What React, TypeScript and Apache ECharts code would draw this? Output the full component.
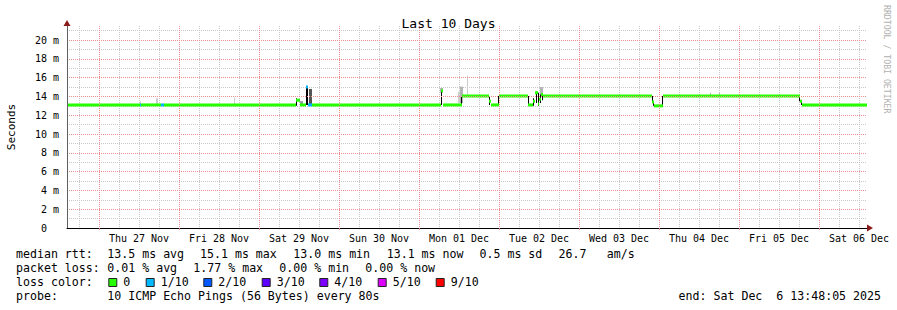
import React, { useEffect, useRef } from 'react';
import * as echarts from 'echarts';

// ---- Data (x = hours relative to Thu 27 Nov 00:00, y = milliseconds) ----
const X_MIN = -9.6;
const X_MAX = 230.4;
const Y_MIN = 0;
const Y_MAX = 21.5;

const dayLabels = ['Thu 27 Nov', 'Fri 28 Nov', 'Sat 29 Nov', 'Sun 30 Nov', 'Mon 01 Dec', 'Tue 02 Dec', 'Wed 03 Dec', 'Thu 04 Dec', 'Fri 05 Dec', 'Sat 06 Dec'];
const dayLabelHours = [12, 36, 60, 84, 108, 132, 156, 180, 204, 228];
const dayBoundaryHours = [0, 24, 48, 72, 96, 120, 144, 168, 192, 216];
const sixHourLines: number[] = [];
for (let h = -6; h <= 228; h += 6) if (h % 24 !== 0) sixHourLines.push(h);

const yMajorTicks = [0, 2, 4, 6, 8, 10, 12, 14, 16, 18, 20];
const yMinorTicks = [1, 3, 5, 7, 9, 11, 13, 15, 17, 19, 21];

const lossLabels = ['0', '1/10', '2/10', '3/10', '4/10', '5/10', '9/10'];
const lossColors = ['#26ff00', '#00b8ff', '#0059ff', '#5e00ff', '#7e00ff', '#dd00ff', '#ff0000'];

// median segments: [startHour, endHour, medianMs, lossIndex]
const medianSegments = [
  [-9.6, 12.3, 13.1, 0],
  [12.3, 12.6, 13.1, 1],
  [12.6, 18.6, 13.1, 0],
  [18.6, 19.5, 13.1, 1],
  [19.5, 59.1, 13.1, 0],
  [59.1, 60.3, 13.6, 0],
  [60.3, 62.1, 13.1, 0],
  [62.1, 62.7, 15.0, 1],
  [62.7, 63.9, 13.1, 1],
  [63.9, 102.6, 13.1, 0],
  [102.6, 103.2, 14.6, 0],
  [103.2, 108.9, 13.1, 0],
  [108.9, 117.0, 14.05, 0],
  [117.0, 117.6, 13.5, 0],
  [117.6, 120.0, 13.1, 0],
  [120.0, 128.7, 14.05, 0],
  [128.7, 130.2, 13.1, 0],
  [130.2, 130.8, 13.5, 0],
  [130.8, 131.7, 14.4, 0],
  [131.7, 132.0, 13.2, 0],
  [132.0, 132.6, 13.7, 0],
  [132.6, 133.2, 14.2, 0],
  [133.2, 165.9, 14.05, 0],
  [165.9, 166.5, 13.4, 0],
  [166.5, 169.2, 13.0, 0],
  [169.2, 210.3, 14.05, 0],
  [210.3, 210.9, 13.5, 0],
  [210.9, 230.4, 13.1, 0],
];

// smoke segments: [startHour, endHour, lowMs, highMs, shadeIndex]
const smokeShades = ['#000000', '#333333', '#555555', '#999999', '#b4b4b4', '#cccccc'];
const smokeSegments = [
  [12.3, 12.6, 13.1, 13.5, 5],
  [17.1, 17.7, 13.1, 13.8, 5],
  [40.5, 40.8, 13.1, 13.9, 5],
  [59.1, 59.4, 13.0, 13.8, 0],
  [60.3, 61.2, 13.0, 13.5, 3],
  [62.1, 62.7, 13.1, 15.1, 0],
  [63.0, 63.9, 13.1, 14.8, 2],
  [102.3, 103.2, 14.4, 14.9, 4],
  [102.6, 102.9, 13.1, 14.6, 0],
  [107.7, 108.3, 13.3, 14.5, 5],
  [108.3, 109.2, 13.3, 15.05, 4],
  [108.6, 108.9, 13.1, 14.05, 0],
  [110.4, 110.7, 14.05, 16.2, 5],
  [117.0, 117.3, 13.1, 14.05, 0],
  [119.7, 120.0, 13.1, 14.05, 0],
  [128.7, 129.0, 13.1, 14.05, 0],
  [130.2, 130.5, 13.0, 13.8, 0],
  [131.1, 131.4, 13.3, 14.5, 0],
  [131.7, 132.0, 13.0, 14.4, 0],
  [132.3, 133.2, 14.0, 15.0, 4],
  [132.3, 132.6, 13.3, 14.2, 0],
  [132.9, 133.2, 13.6, 14.3, 0],
  [165.9, 166.2, 13.3, 14.05, 0],
  [166.2, 166.5, 13.0, 13.5, 0],
  [168.9, 169.2, 13.0, 14.05, 0],
  [183.3, 183.6, 14.0, 14.4, 4],
  [186.0, 186.3, 14.0, 14.4, 4],
  [210.0, 210.3, 13.5, 14.05, 0],
  [210.6, 210.9, 13.1, 13.6, 0],
];

const titleText = 'Last 10 Days';
const yAxisName = 'Seconds';
const medianRow = ['median rtt:', '13.5 ms avg', '15.1 ms max', '13.0 ms min', '13.1 ms now', '0.5 ms sd', '26.7', 'am/s'];
const lossRow = ['packet loss:', '0.01 % avg', '1.77 % max', '0.00 % min', '0.00 % now'];
const probeRow = ['probe:', '10 ICMP Echo Pings (56 Bytes) every 80s'];
const endText = 'end: Sat Dec  6 13:48:05 2025';
const creditText = 'RRDTOOL / TOBI OETIKER';

// ---- Layout / style ----
const MONO = '"DejaVu Sans Mono", monospace';
const LEG_FS = 11.6;
const MAJOR_GRID = '#ea8f8f';
const MINOR_GRID = '#c8c8c8';
const medianRowX = [16, 107.3, 200, 293.3, 386.7, 479.5, 558.5, 606.7];
const lossRowX = [16, 107.3, 193.3, 279.3, 365.3];
const lossBoxX = [108.3, 145.7, 203.3, 261.7, 319.3, 377.7, 435.7];
const rowY = [254.3, 268.3, 282.3, 296.3];

function legendText(text: string, x: number, y: number, align = 'left') {
  return {
    type: 'text', x, y, silent: true,
    style: {
      text, fill: '#000', fontFamily: MONO, fontSize: LEG_FS,
      textAlign: align, textVerticalAlign: 'middle', align, verticalAlign: 'middle',
    },
  };
}

export default function App() {
  const ref = useRef<HTMLDivElement>(null);
  useEffect(() => {
    document.body.style.margin = '0';
    const chart = echarts.init(ref.current!, null, { renderer: 'svg', width: 897, height: 310 });

    const graphics: any[] = [];
    medianRow.forEach((t, i) => graphics.push(legendText(t, medianRowX[i], rowY[0])));
    lossRow.forEach((t, i) => graphics.push(legendText(t, lossRowX[i], rowY[1])));
    graphics.push(legendText('loss color:', 16, rowY[2]));
    lossLabels.forEach((t, i) => {
      graphics.push({
        type: 'rect', silent: true,
        shape: { x: lossBoxX[i] + 0.5, y: 278.5, width: 8, height: 8 },
        style: { fill: lossColors[i], stroke: '#222', lineWidth: 1 },
      });
      graphics.push(legendText(t, lossBoxX[i] + 15, rowY[2]));
    });
    graphics.push(legendText(probeRow[0], 16, rowY[3]));
    graphics.push(legendText(probeRow[1], 107.3, rowY[3]));
    graphics.push(legendText(endText, 881, rowY[3], 'right'));
    graphics.push({
      type: 'text', x: 11, y: 127, rotation: Math.PI / 2, silent: true,
      style: { text: yAxisName, fill: '#000', fontFamily: MONO, fontSize: 11, textAlign: 'center', textVerticalAlign: 'middle', align: 'center', verticalAlign: 'middle' },
    });
    graphics.push({
      type: 'text', x: 887, y: 5, rotation: -Math.PI / 2, silent: true,
      style: { text: creditText, fill: '#b0b0b0', fontFamily: MONO, fontSize: 8.2, textAlign: 'left', textVerticalAlign: 'middle', align: 'left', verticalAlign: 'middle' },
    });
    // axis arrows
    graphics.push({ type: 'polygon', silent: true, z: 100, shape: { points: [[63.5, 26], [70.5, 26], [67, 20]] }, style: { fill: '#8b1a1a' } });
    graphics.push({ type: 'polygon', silent: true, z: 100, shape: { points: [[867, 224.5], [867, 231.5], [873, 228]] }, style: { fill: '#8b1a1a' } });

    const option: any = {
      animation: false,
      backgroundColor: '#ffffff',
      title: {
        text: titleText, left: 'center', top: 12,
        textStyle: { fontFamily: MONO, fontSize: 13, fontWeight: 'normal', color: '#000' },
      },
      grid: { left: 67, top: 26, width: 800, height: 202 },
      xAxis: [
        {
          type: 'value', min: X_MIN, max: X_MAX, position: 'bottom', z: 5,
          axisLine: { show: true, onZero: false, lineStyle: { color: '#000', width: 1 } },
          axisTick: { show: true, customValues: dayBoundaryHours, length: 2, lineStyle: { color: MAJOR_GRID } },
          axisLabel: {
            customValues: dayLabelHours, margin: 5, color: '#000', fontFamily: MONO, fontSize: 10,
            formatter: (v: number) => dayLabels[dayLabelHours.indexOf(Math.round(v))] ?? '',
          },
          splitLine: { show: true, lineStyle: { color: MAJOR_GRID, type: [1, 1], width: 1 } },
        },
        {
          type: 'value', min: X_MIN, max: X_MAX, position: 'bottom',
          axisLine: { show: false, onZero: false },
          axisTick: { show: false, customValues: sixHourLines },
          axisLabel: { show: false, customValues: sixHourLines },
          splitLine: { show: true, lineStyle: { color: MINOR_GRID, type: [1, 1], width: 1 } },
        },
      ],
      yAxis: [
        {
          type: 'value', min: Y_MIN, max: Y_MAX, position: 'left', z: 5,
          axisLine: { show: true, onZero: false, lineStyle: { color: '#606060', width: 1 } },
          axisTick: { show: false, customValues: yMajorTicks },
          axisLabel: {
            customValues: yMajorTicks, margin: 8, color: '#000', fontFamily: MONO, fontSize: 10,
            formatter: (v: number) => (v === 0 ? '{z|0}' : `${v} m`),
            rich: { z: { fontFamily: MONO, fontSize: 10, color: '#000', padding: [0, 12, 0, 0] } },
          },
          splitLine: { show: true, lineStyle: { color: MAJOR_GRID, type: [1, 1], width: 1 } },
        },
        {
          type: 'value', min: Y_MIN, max: Y_MAX, position: 'left',
          axisLine: { show: false, onZero: false },
          axisTick: { show: false, customValues: yMinorTicks },
          axisLabel: { show: false, customValues: yMinorTicks },
          splitLine: { show: true, lineStyle: { color: MINOR_GRID, type: [1, 1], width: 1 } },
        },
      ],
      series: [
        {
          type: 'custom', xAxisIndex: 0, yAxisIndex: 0, silent: true, clip: true, z: 2,
          data: smokeSegments,
          renderItem: (_p: any, api: any) => {
            const a = api.coord([api.value(0), api.value(3)]);
            const b = api.coord([api.value(1), api.value(2)]);
            return {
              type: 'rect',
              shape: { x: a[0], y: a[1], width: Math.max(1, b[0] - a[0]), height: Math.max(1, b[1] - a[1]) },
              style: { fill: smokeShades[api.value(4)] },
            };
          },
        },
        {
          type: 'custom', xAxisIndex: 0, yAxisIndex: 0, silent: true, clip: true, z: 3,
          data: medianSegments,
          renderItem: (_p: any, api: any) => {
            const a = api.coord([api.value(0), api.value(2)]);
            const b = api.coord([api.value(1), api.value(2)]);
            return {
              type: 'rect',
              shape: { x: a[0], y: a[1] - 1.5, width: Math.max(1, b[0] - a[0]), height: 3 },
              style: { fill: lossColors[api.value(3)] },
            };
          },
        },
      ],
      graphic: { elements: graphics },
    };
    chart.setOption(option);
    return () => chart.dispose();
  }, []);
  return <div ref={ref} style={{ width: 897, height: 310, position: 'absolute', left: 0, top: 0, background: '#fff' }} />;
}
